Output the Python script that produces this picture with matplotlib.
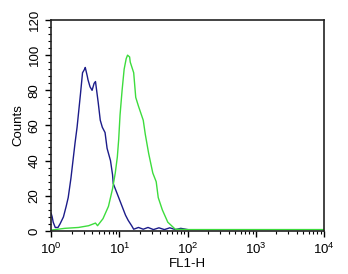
import matplotlib
matplotlib.use("Agg")
import matplotlib.pyplot as plt
from matplotlib.ticker import MultipleLocator, LogLocator, NullFormatter

plt.rcParams['font.family'] = 'Liberation Sans'
plt.rcParams['mathtext.default'] = 'regular'

# control histogram (blue), log10 of FL1-H vs counts
blue_log = [0.0, 0.015, 0.03, 0.06, 0.10, 0.13, 0.18, 0.22, 0.25, 0.29, 0.32, 0.35,
            0.38, 0.43, 0.46, 0.49, 0.50, 0.53, 0.54, 0.57, 0.60, 0.63, 0.65,
            0.68, 0.69, 0.72, 0.75, 0.79, 0.82, 0.87, 0.90, 0.91, 0.96, 0.99,
            1.04, 1.09, 1.13, 1.18, 1.21, 1.28, 1.35, 1.42, 1.50, 1.58, 1.66,
            1.74, 1.82, 1.90, 2.0]
blue_cnt = [10, 8, 5, 2, 2, 4, 8, 14, 19, 30, 40, 50,
            59, 78, 90, 92, 93, 88, 86, 82, 80, 84, 85,
            76, 73, 63, 59, 56, 47, 40, 32, 27, 22, 19,
            14, 9, 6, 3, 1, 2, 1, 2, 0.8, 1.8, 0.8,
            1.8, 0.8, 1.5, 0.8]

# stained histogram (green)
green_log = [0.0, 0.2, 0.4, 0.55, 0.65, 0.68, 0.76, 0.84, 0.90, 0.94, 0.97, 0.99,
             1.01, 1.04, 1.07, 1.10, 1.12, 1.15, 1.16, 1.21, 1.24, 1.28, 1.35,
             1.38, 1.43, 1.49, 1.54, 1.57, 1.63, 1.71, 1.82, 2.0, 2.5, 3.0,
             3.5, 4.0]
green_cnt = [0.5, 1.5, 2, 3, 4.5, 3, 7, 14, 24, 33, 42, 52,
             66, 80, 92, 98, 100, 99, 96, 90, 76, 71, 63,
             55, 44, 33, 28, 19, 12, 5, 1, 0.8, 0.8, 0.8,
             0.8, 0.8]

fig = plt.figure(figsize=(3.48, 2.74), dpi=100)
ax = fig.add_axes([0.147, 0.157, 0.784, 0.770])

ax.plot([10 ** v for v in blue_log], blue_cnt, color='#1c1c8a', lw=1.0)
ax.plot([10 ** v for v in green_log], green_cnt, color='#3ddc3d', lw=1.0)

ax.set_xscale('log')
ax.set_xlim(1, 1e4)
ax.set_ylim(0, 120)
ax.yaxis.set_major_locator(MultipleLocator(20))
ax.yaxis.set_minor_locator(MultipleLocator(4))
ax.xaxis.set_major_locator(LogLocator(base=10))
ax.xaxis.set_minor_locator(LogLocator(base=10, subs=range(2, 10)))
ax.xaxis.set_minor_formatter(NullFormatter())

for s in ax.spines.values():
    s.set_linewidth(1.2)
    s.set_color('#222222')
ax.tick_params(which='major', length=4, width=1, labelsize=9.5)
ax.tick_params(which='minor', length=2, width=0.8)
for lab in ax.get_yticklabels():
    lab.set_rotation(90)
    lab.set_va('center')

ax.set_xlabel('FL1-H', fontsize=9.5, labelpad=1)
ax.set_ylabel('Counts', fontsize=9.5, labelpad=3)

fig.savefig('out.png', dpi=100)
